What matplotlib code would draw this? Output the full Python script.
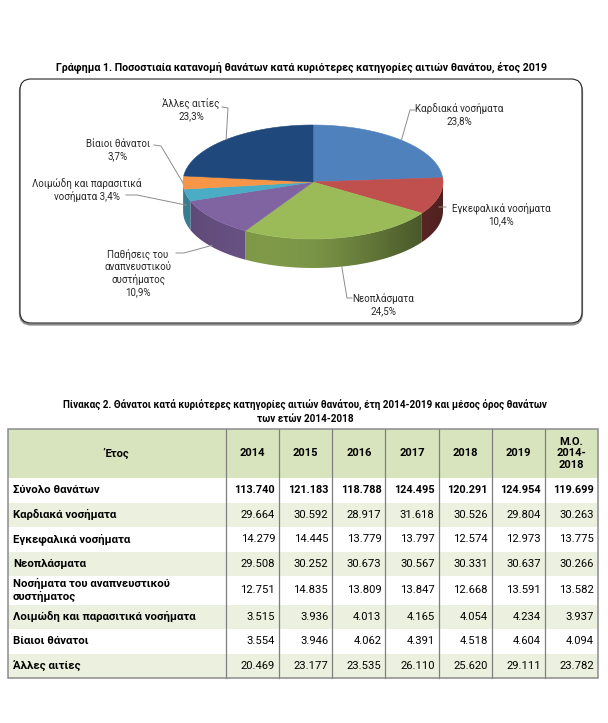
import numpy as np
import matplotlib.pyplot as plt
from matplotlib.patches import Polygon, Rectangle, FancyBboxPatch
from matplotlib import colors as mcolors

plt.rcParams['font.family'] = ['Roboto', 'DejaVu Sans']

# pie: share of deaths by main cause, 2019
causes = ['Καρδιακά νοσήματα', 'Εγκεφαλικά νοσήματα', 'Νεοπλάσματα',
          'Παθήσεις του\nαναπνευστικού\nσυστήματος', 'Λοιμώδη και παρασιτικά\nνοσήματα',
          'Βίαιοι θάνατοι', 'Άλλες αιτίες']
shares = [23.8, 10.4, 24.5, 10.9, 3.4, 3.7, 23.3]
pie_colors = ['#4f81bd', '#c0504d', '#9bbb59', '#8064a2', '#4bacc6', '#f79646', '#1f497d']

# table: deaths 2014-2019 and mean 2014-2018
years = ['2014', '2015', '2016', '2017', '2018', '2019', 'Μ.Ο.\n2014-\n2018']
row_names = ['Σύνολο θανάτων', 'Καρδιακά νοσήματα', 'Εγκεφαλικά νοσήματα', 'Νεοπλάσματα',
             'Νοσήματα του αναπνευστικού\nσυστήματος', 'Λοιμώδη και παρασιτικά νοσήματα',
             'Βίαιοι θάνατοι', 'Άλλες αιτίες']
total = [113740, 121183, 118788, 124495, 120291, 124954, 119699]
cardiac = [29664, 30592, 28917, 31618, 30526, 29804, 30263]
cerebro = [14279, 14445, 13779, 13797, 12574, 12973, 13775]
neoplasms = [29508, 30252, 30673, 30567, 30331, 30637, 30266]
respiratory = [12751, 14835, 13809, 13847, 12668, 13591, 13582]
infectious = [3515, 3936, 4013, 4165, 4054, 4234, 3937]
violent = [3554, 3946, 4062, 4391, 4518, 4604, 4094]
other = [20469, 23177, 23535, 26110, 25620, 29111, 23782]
table_rows = [total, cardiac, cerebro, neoplasms, respiratory, infectious, violent, other]

fig = plt.figure(figsize=(6.08, 7.23), dpi=100)
ax = fig.add_axes([0, 0, 1, 1])

TXT = '#262626'

# chart title + rounded frame
ax.text(302, 67, 'Γράφημα 1. Ποσοστιαία κατανομή θανάτων κατά κυριότερες κατηγορίες αιτιών θανάτου, έτος 2019',
        ha='center', va='center', fontsize=7.7, fontweight='bold')
ax.add_patch(FancyBboxPatch((20, 80.5), 562, 244, boxstyle='round,pad=0,rounding_size=11',
                            fc='none', ec='#8a8a8a', lw=1.6, zorder=1))
ax.add_patch(FancyBboxPatch((20, 79), 562, 244, boxstyle='round,pad=0,rounding_size=11',
                            fc='white', ec='#262626', lw=0.8, zorder=1))

# 3d pie
cx, cy, rx, ry, depth = 313, 182, 130, 57, 29
bounds = 90 - 360 * np.concatenate([[0], np.cumsum(shares)]) / sum(shares)


def ell(t):
    t = np.radians(t)
    return cx + rx * np.cos(t), cy - ry * np.sin(t)


# horizontal lighting for the side walls
gx = np.linspace(-1, 1, 300)
light = 0.62 + 0.2 * np.cos((gx + 0.35) * 1.6) - 0.1 * np.clip(gx, 0, 1)

for i, col in enumerate(pie_colors):
    base = np.array(mcolors.to_rgb(col))
    lo, hi = max(bounds[i + 1], -180), min(bounds[i], 0)
    if lo < hi:
        ts = np.linspace(hi, lo, 60)
        xs, ys = ell(ts)
        side = list(zip(xs, ys)) + list(zip(xs[::-1], ys[::-1] + depth))
        poly = Polygon(side, closed=True, fc='none', ec='none')
        ax.add_patch(poly)
        grad = np.clip(base[None, None, :] * light[None, :, None], 0, 1)
        im = ax.imshow(np.repeat(grad, 2, axis=0), extent=(cx - rx, cx + rx, cy + ry + depth + 2, cy - 2),
                       aspect='auto', zorder=2, interpolation='bilinear')
        im.set_clip_path(poly)
    ts = np.linspace(bounds[i], bounds[i + 1], 80)
    xs, ys = ell(ts)
    pts = [(cx, cy)] + list(zip(xs, ys))
    ax.add_patch(Polygon(pts, closed=True, fc=col, ec=col, lw=0.4, zorder=3))

# labels with leader lines
label_xy = [(459, 115), (501, 214), (383, 305), (138, 273), (87, 190), (118, 150), (191, 110)]
leader_pts = [[(415, 110), (410, 110)], [(446, 207), (441, 207)], [(352, 298), (347, 298)],
              [(176, 253), (184, 253)], [(126, 195), (137, 195)], [(154, 145), (161, 146)],
              [(222, 107), (228, 108)]]
seps = ['\n', '\n', '\n', '\n', ' ', '\n', '\n']
for i, name in enumerate(causes):
    mid = (bounds[i] + bounds[i + 1]) / 2
    ax_, ay_ = ell(mid)
    s = np.sin(np.radians(mid))
    if s < 0:
        ay_ += depth * min(1, -s * 1.5)
    pct = f'{shares[i]:.1f}%'.replace('.', ',')
    ax.text(*label_xy[i], name + seps[i] + pct, ha='center', va='center',
            fontsize=7, color=TXT, linespacing=1.25, zorder=5)
    path = leader_pts[i] + [(ax_, ay_)]
    ax.plot([p[0] for p in path], [p[1] for p in path], color='#8c8c8c', lw=0.7, zorder=4)

# table title
ax.text(305, 412, 'Πίνακας 2. Θάνατοι κατά κυριότερες κατηγορίες αιτιών θανάτου, έτη 2014-2019 και μέσος όρος θανάτων\nτων ετών 2014-2018',
        ha='center', va='center', fontsize=7.1, fontweight='bold', linespacing=1.3)

# table
tab_left, tab_right, lab_w = 8, 598, 218
col_w = (tab_right - tab_left - lab_w) / len(years)
row_h = [49, 24.5, 24.5, 24.5, 24.5, 28.5, 24.5, 24.5, 24.5]
y_edges = 429 + np.concatenate([[0], np.cumsum(row_h)])

for r in range(len(row_h)):
    if r == 0:
        fc = '#d7e4bd'
    elif r % 2 == 0:
        fc = '#ebf1de'
    else:
        fc = 'white'
    ax.add_patch(Rectangle((tab_left, y_edges[r]), tab_right - tab_left, row_h[r],
                           fc=fc, ec='none', zorder=1))
ax.add_patch(Rectangle((tab_left, y_edges[0]), tab_right - tab_left, y_edges[-1] - y_edges[0],
                       fc='none', ec='#8c8c8c', lw=1.1, zorder=3))
for k in range(len(years)):
    xk = tab_left + lab_w + k * col_w
    ax.plot([xk, xk], [y_edges[0], y_edges[-1]], color='#7f7f7f', lw=0.9, zorder=2)

ymid = (y_edges[:-1] + y_edges[1:]) / 2
ax.text(tab_left + lab_w / 2, ymid[0], 'Έτος', ha='center', va='center', fontsize=8, fontweight='bold')
for k, yr in enumerate(years):
    ax.text(tab_left + lab_w + (k + 0.5) * col_w, ymid[0], yr, ha='center', va='center',
            fontsize=8, fontweight='bold', linespacing=1.2)

for r, (name, vals) in enumerate(zip(row_names, table_rows)):
    y = ymid[r + 1]
    ax.text(tab_left + 5, y, name, ha='left', va='center', fontsize=8.2, fontweight='bold',
            linespacing=1.2)
    for k, v in enumerate(vals):
        ax.text(tab_left + lab_w + (k + 1) * col_w - 4, y, f'{v:,}'.replace(',', '.'),
                ha='right', va='center', fontsize=7.8 if r == 0 else 8.1,
                fontweight='bold' if r == 0 else 'normal')

ax.set_xlim(0, 608)
ax.set_ylim(723, 0)
ax.axis('off')

fig.savefig('out.png', dpi=100)
